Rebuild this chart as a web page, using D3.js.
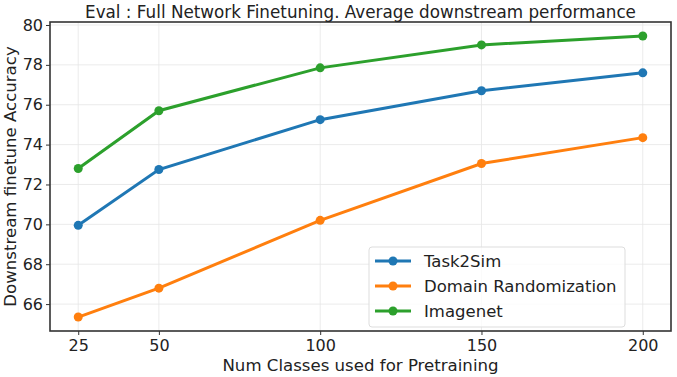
<!DOCTYPE html>
<html>
<head>
<meta charset="utf-8">
<script src="https://cdn.jsdelivr.net/npm/d3@7"></script>
<style>
  body { margin: 0; background: #fff; }
  svg { font-family: "DejaVu Sans", sans-serif; }
</style>
</head>
<body>
<svg width="677" height="377"></svg>
<script>
var classes = [25, 50, 100, 150, 200];
var task2sim = [69.95, 72.75, 75.25, 76.7, 77.6];
var domainRand = [65.35, 66.8, 70.2, 73.05, 74.35];
var imagenet = [72.8, 75.7, 77.85, 79.0, 79.45];
var yTicks = [66, 68, 70, 72, 74, 76, 78, 80];

var series = [
  {name: "Task2Sim", values: task2sim, color: "#1f77b4"},
  {name: "Domain Randomization", values: domainRand, color: "#ff7f0e"},
  {name: "Imagenet", values: imagenet, color: "#2ca02c"}
];

var svg = d3.select("svg"),
  margin = {top: 22, right: 6, bottom: 46, left: 50},
  width = 677 - margin.left - margin.right,
  height = 377 - margin.top - margin.bottom;

var x = d3.scaleLinear().domain([16.25, 208.75]).range([0, width]);
var y = d3.scaleLinear().domain([64.65, 80.15]).range([height, 0]);

var g = svg.append("g")
  .attr("transform", "translate(" + margin.left + "," + margin.top + ")");

// grid
g.append("g").selectAll("line").data(classes).enter().append("line")
  .attr("x1", function(d) { return x(d); }).attr("x2", function(d) { return x(d); })
  .attr("y1", 0).attr("y2", height)
  .attr("stroke", "#e6e6e6").attr("stroke-width", 0.8);
g.append("g").selectAll("line").data(yTicks).enter().append("line")
  .attr("y1", function(d) { return y(d); }).attr("y2", function(d) { return y(d); })
  .attr("x1", 0).attr("x2", width)
  .attr("stroke", "#e6e6e6").attr("stroke-width", 0.8);

var xAxis = g.append("g")
  .attr("transform", "translate(0," + height + ")")
  .call(d3.axisBottom(x).tickValues(classes).tickSize(4).tickPadding(5));
var yAxis = g.append("g")
  .call(d3.axisLeft(y).tickValues(yTicks).tickSize(4).tickPadding(3));
[xAxis, yAxis].forEach(function(a) {
  a.select(".domain").remove();
  a.selectAll("text").style("font-size", "16px").attr("fill", "#222")
    .style("font-family", "DejaVu Sans, sans-serif");
  a.selectAll("line").attr("stroke", "#333");
});

var line = d3.line()
  .x(function(d, i) { return x(classes[i]); })
  .y(function(d) { return y(d); });

series.forEach(function(s) {
  g.append("path")
    .datum(s.values)
    .attr("d", line)
    .attr("fill", "none")
    .attr("stroke", s.color)
    .attr("stroke-width", 3);
  g.selectAll(null).data(s.values).enter().append("circle")
    .attr("cx", function(d, i) { return x(classes[i]); })
    .attr("cy", function(d) { return y(d); })
    .attr("r", 4.5)
    .attr("fill", s.color);
});

// frame
g.append("rect")
  .attr("width", width).attr("height", height)
  .attr("fill", "none").attr("stroke", "#333").attr("stroke-width", 1.6);

// legend
var legend = g.append("g").attr("transform", "translate(" + (width - 302) + "," + (height - 84) + ")");
legend.append("rect")
  .attr("width", 256).attr("height", 80).attr("rx", 3)
  .attr("fill", "#fff").attr("fill-opacity", 0.8)
  .attr("stroke", "#ddd");
series.forEach(function(s, i) {
  var ly = 14 + i * 25;
  legend.append("line")
    .attr("x1", 6).attr("x2", 42).attr("y1", ly).attr("y2", ly)
    .attr("stroke", s.color).attr("stroke-width", 3);
  legend.append("circle").attr("cx", 24).attr("cy", ly).attr("r", 4.5).attr("fill", s.color);
  legend.append("text")
    .attr("x", 55).attr("y", ly).attr("dy", "0.35em")
    .style("font-size", "16.5px").attr("fill", "#222")
    .text(s.name);
});

// titles
svg.append("text")
  .attr("x", margin.left + width / 2).attr("y", 18)
  .attr("text-anchor", "middle")
  .style("font-size", "16.8px").attr("fill", "#222")
  .text("Eval : Full Network Finetuning. Average downstream performance");

svg.append("text")
  .attr("x", margin.left + width / 2).attr("y", 371)
  .attr("text-anchor", "middle")
  .style("font-size", "16.6px").attr("fill", "#222")
  .text("Num Classes used for Pretraining");

svg.append("text")
  .attr("transform", "translate(16," + (margin.top + height / 2) + ") rotate(-90)")
  .attr("text-anchor", "middle")
  .style("font-size", "16.6px").attr("fill", "#222")
  .text("Downstream finetune Accuracy");
</script>
</body>
</html>
